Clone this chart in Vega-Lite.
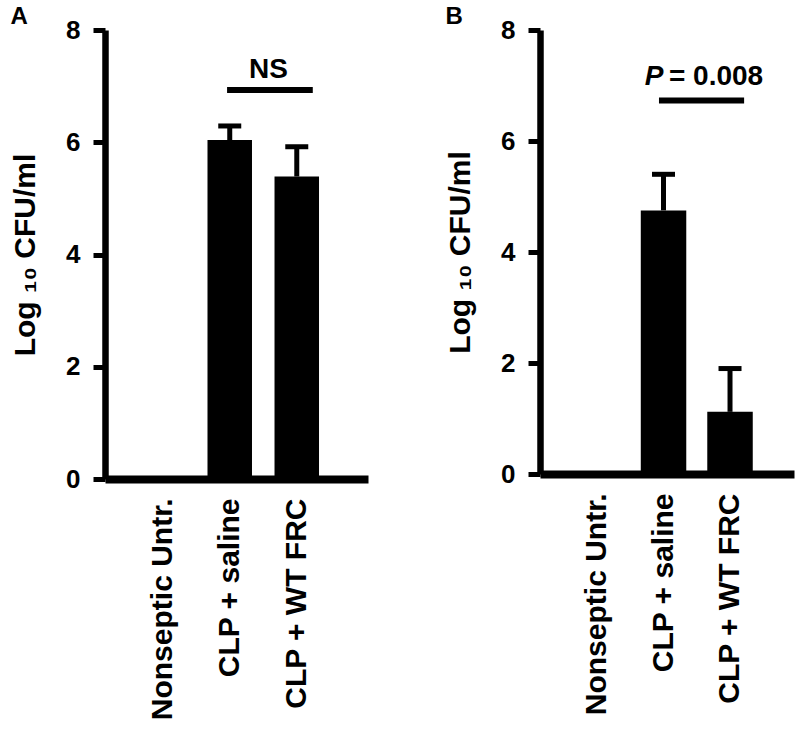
{
  "$schema": "https://vega.github.io/schema/vega-lite/v6.json",
  "background": "white",
  "padding": {"left": 10, "top": 5, "right": 5, "bottom": 5},
  "spacing": 77,
  "config": {
    "font": "Liberation Sans",
    "view": {"stroke": null},
    "title": {"fontSize": 24, "fontWeight": "bold", "color": "black"},
    "axisY": {
      "grid": false,
      "domainWidth": 6.5,
      "domainColor": "black",
      "tickWidth": 5,
      "tickSize": 12,
      "tickColor": "black",
      "labelFontSize": 26,
      "labelFontWeight": "bold",
      "labelColor": "black",
      "labelPadding": 13,
      "titleFontSize": 30,
      "titleFontWeight": "bold",
      "titleColor": "black",
      "titlePadding": 25
    },
    "axisX": {
      "title": null,
      "labelAngle": -90,
      "labelFontSize": 30,
      "labelFontWeight": "bold",
      "labelColor": "black",
      "labelLimit": 0,
      "ticks": false,
      "tickSize": 0,
      "labelPadding": 19,
      "domainWidth": 8,
      "domainColor": "black",
      "grid": false
    }
  },
  "datasets": {
    "a": [
      {"group": "Nonseptic Untr.", "value": 0, "upper": null},
      {"group": "CLP + saline", "value": 6.04, "upper": 6.29},
      {"group": "CLP + WT FRC", "value": 5.39, "upper": 5.92}
    ],
    "b": [
      {"group": "Nonseptic Untr.", "value": 0, "upper": null},
      {"group": "CLP + saline", "value": 4.75, "upper": 5.4},
      {"group": "CLP + WT FRC", "value": 1.12, "upper": 1.9}
    ],
    "asig": [
      {"from": "CLP + saline", "to": "CLP + WT FRC", "y": 6.93, "label": "NS", "ly": 7.14}
    ],
    "bsig": [
      {"from": "CLP + saline", "to": "CLP + WT FRC", "y": 6.73, "p": "P", "rest": "= 0.008", "ly": 7.01}
    ]
  },
  "hconcat": [
    {
      "title": {"text": "A", "anchor": "start", "frame": "bounds", "fontSize": 24, "fontWeight": "bold", "color": "black", "offset": -12},
      "width": 263,
      "height": 449,
      "layer": [
        {
          "data": {"name": "a"},
          "mark": {"type": "bar", "color": "black"},
          "encoding": {
            "x": {"field": "group", "type": "nominal", "scale": {"domain": ["Nonseptic Untr.", "CLP + saline", "CLP + WT FRC"], "paddingInner": 0.336, "paddingOuter": 0.63, "align": 0.42}},
            "y": {"field": "value", "type": "quantitative", "scale": {"domain": [0, 8], "nice": false}, "title": "Log ₁₀  CFU/ml", "axis": {"values": [0, 2, 4, 6, 8], "format": "d"}}
          }
        },
        {
          "data": {"name": "a"},
          "transform": [{"filter": "datum.upper != null"}],
          "mark": {"type": "rule", "color": "black", "strokeWidth": 5},
          "encoding": {
            "x": {"field": "group", "type": "nominal"},
            "y": {"field": "value", "type": "quantitative"},
            "y2": {"field": "upper"}
          }
        },
        {
          "data": {"name": "a"},
          "transform": [{"filter": "datum.upper != null"}],
          "mark": {"type": "tick", "color": "black", "thickness": 5, "size": 23, "opacity": 1},
          "encoding": {
            "x": {"field": "group", "type": "nominal"},
            "y": {"field": "upper", "type": "quantitative"}
          }
        },
        {
          "data": {"name": "asig"},
          "mark": {"type": "rule", "color": "black", "strokeWidth": 6},
          "encoding": {
            "x": {"field": "from", "type": "nominal", "bandPosition": 0.44},
            "x2": {"field": "to", "bandPosition": 0.86},
            "y": {"field": "y", "type": "quantitative"}
          }
        },
        {
          "data": {"name": "asig"},
          "mark": {"type": "text", "color": "black", "fontSize": 28, "fontWeight": "bold", "align": "center", "baseline": "alphabetic"},
          "encoding": {
            "x": {"field": "from", "type": "nominal", "bandPosition": 1.37},
            "y": {"field": "ly", "type": "quantitative"},
            "text": {"field": "label"}
          }
        }
      ]
    },
    {
      "title": {"text": "B", "anchor": "start", "frame": "bounds", "fontSize": 24, "fontWeight": "bold", "color": "black", "offset": -12},
      "width": 254,
      "height": 444,
      "layer": [
        {
          "data": {"name": "b"},
          "mark": {"type": "bar", "color": "black"},
          "encoding": {
            "x": {"field": "group", "type": "nominal", "scale": {"domain": ["Nonseptic Untr.", "CLP + saline", "CLP + WT FRC"], "paddingInner": 0.316, "paddingOuter": 0.568, "align": 0.454}},
            "y": {"field": "value", "type": "quantitative", "scale": {"domain": [0, 8], "nice": false}, "title": "Log ₁₀  CFU/ml", "axis": {"values": [0, 2, 4, 6, 8], "format": "d"}}
          }
        },
        {
          "data": {"name": "b"},
          "transform": [{"filter": "datum.upper != null"}],
          "mark": {"type": "rule", "color": "black", "strokeWidth": 5},
          "encoding": {
            "x": {"field": "group", "type": "nominal"},
            "y": {"field": "value", "type": "quantitative"},
            "y2": {"field": "upper"}
          }
        },
        {
          "data": {"name": "b"},
          "transform": [{"filter": "datum.upper != null"}],
          "mark": {"type": "tick", "color": "black", "thickness": 5, "size": 23, "opacity": 1},
          "encoding": {
            "x": {"field": "group", "type": "nominal"},
            "y": {"field": "upper", "type": "quantitative"}
          }
        },
        {
          "data": {"name": "bsig"},
          "mark": {"type": "rule", "color": "black", "strokeWidth": 6},
          "encoding": {
            "x": {"field": "from", "type": "nominal", "bandPosition": 0.4},
            "x2": {"field": "to", "bandPosition": 0.81},
            "y": {"field": "y", "type": "quantitative"}
          }
        },
        {
          "data": {"name": "bsig"},
          "mark": {"type": "text", "color": "black", "fontSize": 28, "fontWeight": "bold", "fontStyle": "italic", "align": "right", "baseline": "alphabetic"},
          "encoding": {
            "x": {"field": "from", "type": "nominal", "bandPosition": 0.5},
            "y": {"field": "ly", "type": "quantitative"},
            "text": {"field": "p"}
          }
        },
        {
          "data": {"name": "bsig"},
          "mark": {"type": "text", "color": "black", "fontSize": 28, "fontWeight": "bold", "align": "left", "baseline": "alphabetic"},
          "encoding": {
            "x": {"field": "from", "type": "nominal", "bandPosition": 0.62},
            "y": {"field": "ly", "type": "quantitative"},
            "text": {"field": "rest"}
          }
        }
      ]
    }
  ]
}
